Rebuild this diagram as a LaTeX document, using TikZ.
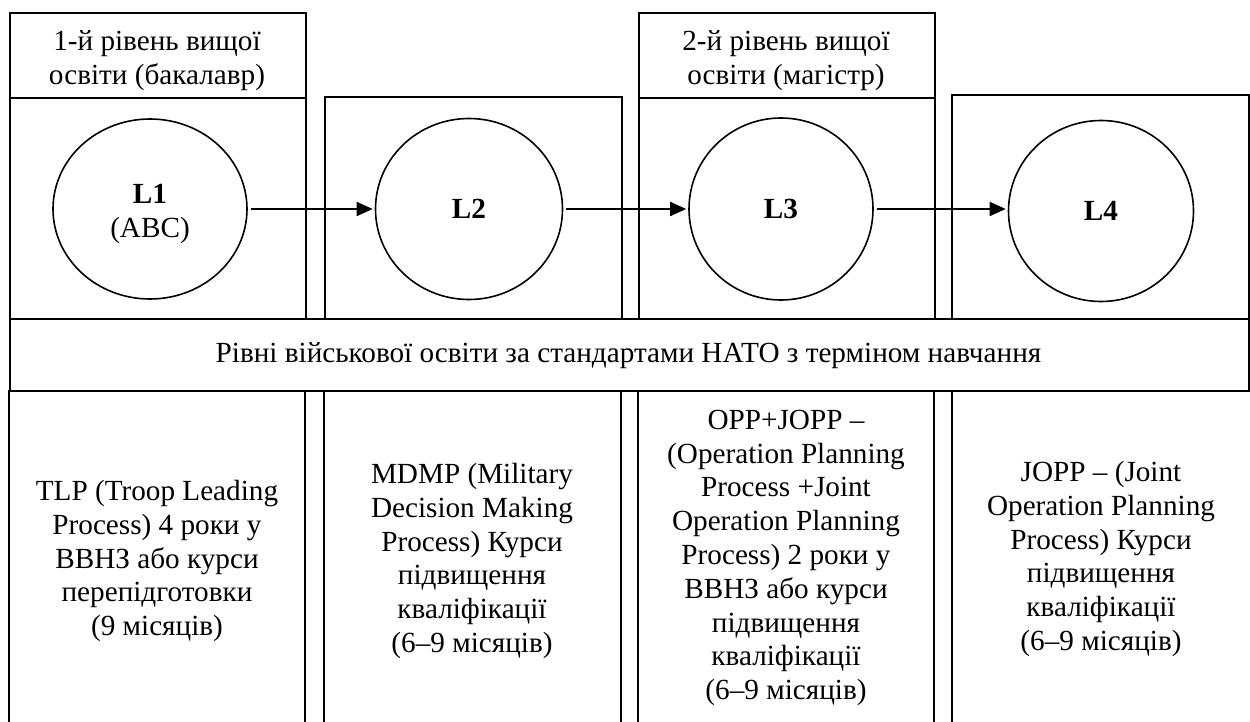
\documentclass[tikz,border=0pt]{standalone}
\usepackage{fontspec}
\setmainfont{Liberation Serif}
\usetikzlibrary{shapes.geometric,arrows.meta}
\tikzset{
  boxst/.style={draw, line width=2pt, rectangle, anchor=north west, inner sep=0pt},
  levelst/.style={draw, line width=1.6pt, ellipse, inner sep=0pt, align=center},
  txt/.style={align=center, font=\fontsize{29.2}{33.8}\selectfont, inner sep=0pt},
  arr/.style={line width=1.7pt, -{Triangle[length=16pt,width=14pt]}, shorten <=3pt, shorten >=2pt},
  colline/.style={line width=2pt}
}
\begin{document}
\begin{tikzpicture}[x=1pt,y=-1pt]
\useasboundingbox (0,0) rectangle (1250,722);
% top boxes
\node[boxst, minimum width=296pt, minimum height=306pt] (b1) at (9,12) {};
\node[boxst, minimum width=297pt, minimum height=222pt] (b2) at (324,96) {};
\node[boxst, minimum width=296pt, minimum height=306pt] (b3) at (638,12) {};
\node[boxst, minimum width=297pt, minimum height=224pt] (b4) at (951,94) {};
\draw[colline] (9,98) -- (305,98);
\draw[colline] (638,98) -- (934,98);
% titles
\node[txt] (t1) at (157,61) {1-й рівень вищої\\освіти (бакалавр)};
\node[txt] (t3) at (786,61) {2-й рівень вищої\\освіти (магістр)};
% levels
\node[levelst, minimum width=194pt, minimum height=180pt] (c1) at (150,209) {};
\node[txt] (l1) at (150,214) {\textbf{L1}\\(ABC)};
\node[levelst, minimum width=187pt, minimum height=181pt] (c2) at (469,209) {\fontsize{29.2}{33.8}\selectfont\textbf{L2}};
\node[levelst, minimum width=184pt, minimum height=182pt] (c3) at (781,209) {\fontsize{29.2}{33.8}\selectfont\textbf{L3}};
\node[levelst, minimum width=185pt, minimum height=181pt] (c4) at (1101,211) {\fontsize{29.2}{33.8}\selectfont\textbf{L4}};
\draw[arr] (c1) -- (c2);
\draw[arr] (c2) -- (c3);
\draw[arr] (c3.east) -- (c3.east -| c4.west);
% band
\node[boxst, minimum width=1239pt, minimum height=72pt] (band) at (9,318) {};
\node[txt] (bt) at (628.5,356) {Рівні військової освіти за стандартами НАТО з терміном навчання};
% bottom columns
\draw[colline] (9,390) -- (9,722);
\draw[colline] (305,390) -- (305,722);
\draw[colline] (324,390) -- (324,722);
\draw[colline] (621,390) -- (621,722);
\draw[colline] (638,390) -- (638,722);
\draw[colline] (934,390) -- (934,722);
\draw[colline] (952,390) -- (952,722);
\node[txt] (d1) at (157,561) {TLP (Troop Leading\\Process) 4 роки у\\ВВНЗ або курси\\перепідготовки\\(9 місяців)};
\node[txt] (d2) at (472,561) {MDMP (Military\\Decision Making\\Process) Курси\\підвищення\\кваліфікації\\(6–9 місяців)};
\node[txt] (d3) at (786,558) {OPP+JOPP –\\(Operation Planning\\Process +Joint\\Operation Planning\\Process) 2 роки у\\ВВНЗ або курси\\підвищення\\кваліфікації\\(6–9 місяців)};
\node[txt] (d4) at (1101,559) {JOPP – (Joint\\Operation Planning\\Process) Курси\\підвищення\\кваліфікації\\(6–9 місяців)};
\end{tikzpicture}
\end{document}
